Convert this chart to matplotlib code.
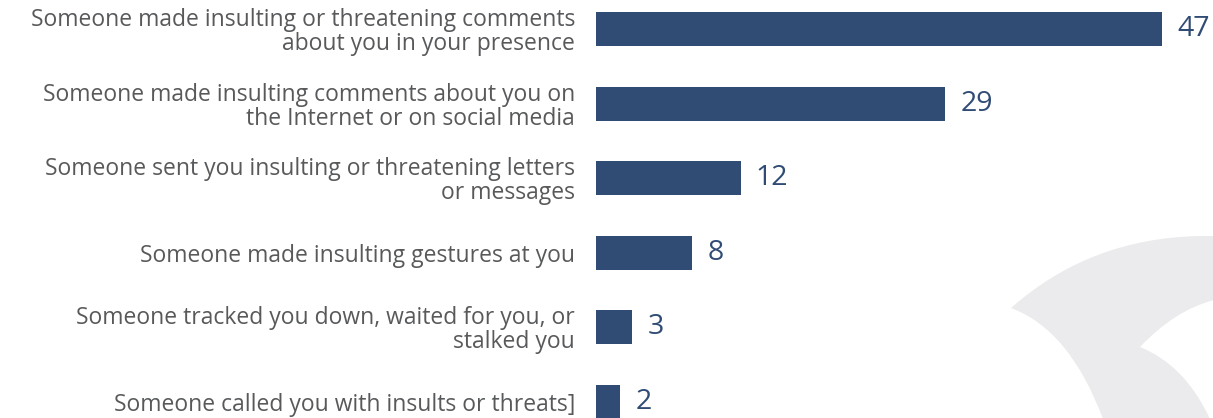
import matplotlib
matplotlib.use("Agg")
import matplotlib.pyplot as plt
from matplotlib.path import Path
from matplotlib.patches import PathPatch

categories = [
    "Someone made insulting or threatening comments\nabout you in your presence",
    "Someone made insulting comments about you on\nthe Internet or on social media",
    "Someone sent you insulting or threatening letters\nor messages",
    "Someone made insulting gestures at you",
    "Someone tracked you down, waited for you, or\nstalked you",
    "Someone called you with insults or threats]",
]
values = [47, 29, 12, 8, 3, 2]

BAR_COLOR = "#304c74"
TEXT_GRAY = "#58595b"
SWOOSH = "#ebebed"

W, H = 1213, 418
fig = plt.figure(figsize=(W / 100, H / 100), dpi=100)
fig.patch.set_facecolor("white")

# decorative watermark swoosh (figure pixel coords -> fraction)
def fp(x, y):
    return (x / W, 1 - y / H)

verts = [fp(1011, 308), fp(1090, 238), fp(1200, 236), fp(1214, 236),
         fp(1214, 300), fp(1175, 310), fp(1140, 347),
         fp(1185, 365), fp(1210, 419),
         fp(1103, 419), fp(1070, 330), fp(1011, 308), fp(1011, 308)]
codes = [Path.MOVETO, Path.CURVE3, Path.CURVE3, Path.LINETO,
         Path.LINETO, Path.CURVE3, Path.CURVE3,
         Path.CURVE3, Path.CURVE3,
         Path.LINETO, Path.CURVE3, Path.CURVE3, Path.CLOSEPOLY]
swoosh = PathPatch(Path(verts, codes), facecolor=SWOOSH, edgecolor="none",
                   transform=fig.transFigure, zorder=0)
fig.patches.append(swoosh)

left_px = 596
px_per_unit = 566 / 47
ax = fig.add_axes([left_px / W, 0, 1 - left_px / W, 1])
ax.set_facecolor("none")

n = len(values)
pos = list(range(n))
ax.barh(pos, values, height=0.455, color=BAR_COLOR, zorder=2)

step_px = (402 - 29) / (n - 1)
ax.set_ylim(n - 1 + (H - 402) / step_px, -29 / step_px)
ax.set_xlim(0, (W - left_px) / px_per_unit)

for i, v in enumerate(values):
    ax.annotate(str(v), xy=(v, i), xytext=(11, 0), textcoords="offset points",
                va="center", ha="left", fontsize=20.5, color=BAR_COLOR,
                family=["Open Sans", "DejaVu Sans"])

ax.set_yticks(pos)
ax.set_yticklabels(categories, fontsize=16.5, color=TEXT_GRAY,
                   family=["Open Sans", "DejaVu Sans"], ha="right",
                   linespacing=1.0)
ax.tick_params(axis="y", length=0, pad=15)
ax.set_xticks([])
for s in ax.spines.values():
    s.set_visible(False)

fig.savefig("out.png", dpi=100)
